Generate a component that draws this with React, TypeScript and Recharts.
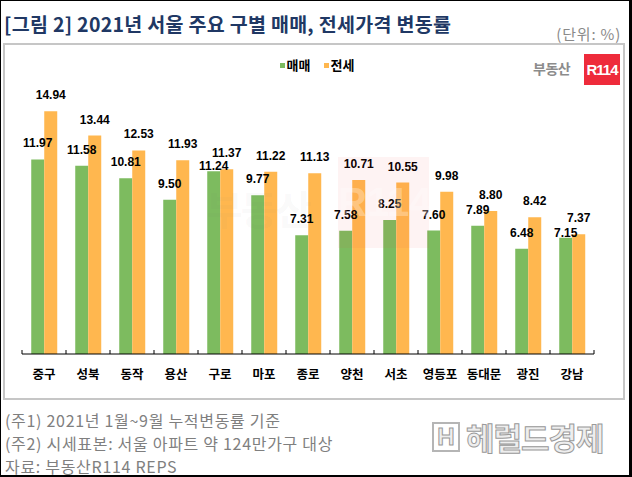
import { Bar, BarChart, LabelList, Legend, XAxis, YAxis } from "recharts";

const districts = [
  "중구", "성북", "동작", "용산", "구로", "마포", "종로",
  "양천", "서초", "영등포", "동대문", "광진", "강남",
];
const saleRates = [11.97, 11.58, 10.81, 9.5, 11.24, 9.77, 7.31, 7.58, 8.25, 7.6, 7.89, 6.48, 7.15];
const jeonseRates = [14.94, 13.44, 12.53, 11.93, 11.37, 11.22, 11.13, 10.71, 10.55, 9.98, 8.8, 8.42, 7.37];
const seriesNames = ["매매", "전세"];
const footnotes = [
  "(주1) 2021년 1월~9월 누적변동률 기준",
  "(주2) 시세표본: 서울 아파트 약 124만가구 대상",
  "자료: 부동산R114 REPS",
];

const data = districts.map((name, i) => ({
  name,
  sale: saleRates[i],
  jeonse: jeonseRates[i],
}));

const W = 632;
const H = 477;
const AXIS_H = 30;
const MARGIN = { top: 93, right: 39, bottom: 124 - AXIS_H, left: 21 };
const HALF_BAND = (W - MARGIN.left - MARGIN.right) / districts.length / 2;

const GREEN = "#7DBB5F";
const ORANGE = "#FFB74F";
const KR = "'Noto Sans CJK KR', sans-serif";
const NUM = "'Liberation Sans', Arial, sans-serif";

const LABEL_STYLE = { fontFamily: NUM, fontSize: 12, fontWeight: 700, fill: "#000" };
const LABEL_OFFSET = 12;

const fmt = (v: any) => Number(v).toFixed(2);

function CategoryTick(props: any) {
  const { x, y, payload, index } = props;
  return (
    <g>
      <line x1={x - HALF_BAND} x2={x - HALF_BAND} y1={y} y2={y - 4} stroke="#000" />
      {index === districts.length - 1 && (
        <line x1={x + HALF_BAND} x2={x + HALF_BAND} y1={y} y2={y - 4} stroke="#000" />
      )}
      <text
        x={x}
        y={y + 25}
        textAnchor="middle"
        fontFamily={KR}
        fontSize={12.5}
        fontWeight={700}
        fill="#000"
      >
        {payload.value}
      </text>
    </g>
  );
}

// 매매 label: drop it down next to the bar top when the 전세 label sits right beside it
function SaleLabel(props: any) {
  const { x, y, width, value, index } = props;
  const crowded = jeonseRates[index] - Number(value) < 0.6;
  return (
    <text
      x={x + width / 2}
      y={y - (crowded ? 1 : LABEL_OFFSET)}
      textAnchor="middle"
      {...LABEL_STYLE}
    >
      {fmt(value)}
    </text>
  );
}

function LegendContent() {
  const colors = [GREEN, ORANGE];
  return (
    <div style={{ display: "flex", justifyContent: "center", gap: 13 }}>
      {seriesNames.map((n, i) => (
        <div key={n} style={{ display: "flex", alignItems: "center" }}>
          <span style={{ width: 5, height: 5, background: colors[i], marginRight: 2 }} />
          <span style={{ fontFamily: KR, fontSize: 13, fontWeight: 700, color: "#000", lineHeight: "16px" }}>
            {n}
          </span>
        </div>
      ))}
    </div>
  );
}

export default function App() {
  return (
    <div
      style={{
        position: "absolute",
        left: 0,
        top: 0,
        width: W,
        height: H,
        background: "#fff",
        boxSizing: "border-box",
        borderLeft: "1px solid #000",
        borderTop: "1px solid #000",
        borderRight: "3px solid #000",
        borderBottom: "2px solid #000",
        overflow: "hidden",
      }}
    >
      <div
        style={{
          position: "absolute",
          left: 3,
          top: 8,
          fontFamily: KR,
          fontWeight: 700,
          fontSize: 19.5,
          color: "#203864",
          whiteSpace: "nowrap",
          letterSpacing: 0.3,
        }}
      >
        [그림 2] 2021년 서울 주요 구별 매매, 전세가격 변동률
      </div>
      <div
        style={{
          position: "absolute",
          right: 8,
          top: 22,
          fontFamily: KR,
          fontSize: 15,
          letterSpacing: 0.8,
          color: "#8a8a8a",
          whiteSpace: "nowrap",
        }}
      >
        (단위: %)
      </div>
      <div
        style={{
          position: "absolute",
          left: 2,
          top: 42,
          width: 622,
          height: 357,
          boxSizing: "border-box",
          border: "2px solid #c6c6c6",
        }}
      />
      {/* 부동산R114 logo */}
      <div
        style={{
          position: "absolute",
          left: 532,
          top: 57,
          fontFamily: KR,
          fontSize: 14,
          fontWeight: 700,
          color: "#8c8c8c",
          letterSpacing: -0.5,
        }}
      >
        부동산
      </div>
      <div
        style={{
          position: "absolute",
          left: 583,
          top: 53,
          width: 36,
          height: 31,
          background: "#EE2B3B",
          color: "#fff",
          fontFamily: NUM,
          fontWeight: 700,
          fontSize: 15,
          lineHeight: "31px",
          textAlign: "center",
          letterSpacing: -1,
        }}
      >
        R114
      </div>
      {/* faint watermark */}
      <div
        style={{
          position: "absolute",
          left: 205,
          top: 178,
          fontFamily: KR,
          fontSize: 40,
          fontWeight: 700,
          color: "rgba(120,120,120,0.05)",
          letterSpacing: -2,
          zIndex: 2,
        }}
      >
        부동산
      </div>
      <div
        style={{
          position: "absolute",
          left: 337,
          top: 156,
          width: 91,
          height: 91,
          background: "rgba(238,43,59,0.06)",
          color: "rgba(255,255,255,0.3)",
          fontFamily: NUM,
          fontSize: 40,
          fontWeight: 700,
          lineHeight: "91px",
          textAlign: "center",
          zIndex: 2,
        }}
      >
        R114
      </div>
      <div style={{ position: "absolute", left: 0, top: 0, zIndex: 1 }}>
        <BarChart
          width={W}
          height={H}
          data={data}
          margin={MARGIN}
          barCategoryGap="21%"
          barGap={0}
        >
          <XAxis
            dataKey="name"
            height={AXIS_H}
            interval={0}
            tickSize={0}
            tickMargin={0}
            tickLine={false}
            axisLine={{ stroke: "#000", strokeWidth: 1 }}
            tick={<CategoryTick />}
          />
          <YAxis hide domain={[0, 16]} />
          <Legend
            layout="horizontal"
            verticalAlign="middle"
            align="center"
            wrapperStyle={{ top: 56, left: 0, width: 632 }}
            content={<LegendContent />}
          />
          <Bar dataKey="sale" name={seriesNames[0]} fill={GREEN} isAnimationActive={false}>
            <LabelList dataKey="sale" content={<SaleLabel />} />
          </Bar>
          <Bar dataKey="jeonse" name={seriesNames[1]} fill={ORANGE} isAnimationActive={false}>
            <LabelList
              dataKey="jeonse"
              position="top"
              offset={LABEL_OFFSET}
              formatter={fmt}
              style={LABEL_STYLE}
            />
          </Bar>
        </BarChart>
      </div>
      {footnotes.map((t, i) => (
        <div
          key={t}
          style={{
            position: "absolute",
            left: 4,
            top: 408 + i * 23,
            fontFamily: KR,
            fontSize: 16,
            letterSpacing: 0.7,
            color: "#7f7f7f",
            whiteSpace: "nowrap",
            lineHeight: "22px",
          }}
        >
          {t}
        </div>
      ))}
      {/* 헤럴드경제 watermark */}
      <div
        style={{
          position: "absolute",
          left: 431,
          top: 418,
          display: "flex",
          alignItems: "center",
          gap: 6,
        }}
      >
        <span
          style={{
            width: 28,
            height: 30,
            border: "2px solid #b5b5b5",
            boxSizing: "border-box",
            fontFamily: NUM,
            fontWeight: 700,
            fontSize: 24,
            lineHeight: "26px",
            textAlign: "center",
            color: "#eee",
            WebkitTextStroke: "1px #999",
          }}
        >
          H
        </span>
        <span
          style={{
            fontFamily: KR,
            fontWeight: 700,
            fontSize: 31,
            lineHeight: "36px",
            color: "#eeeeee",
            WebkitTextStroke: "1px #9a9a9a",
            letterSpacing: -1,
          }}
        >
          헤럴드경제
        </span>
      </div>
    </div>
  );
}
